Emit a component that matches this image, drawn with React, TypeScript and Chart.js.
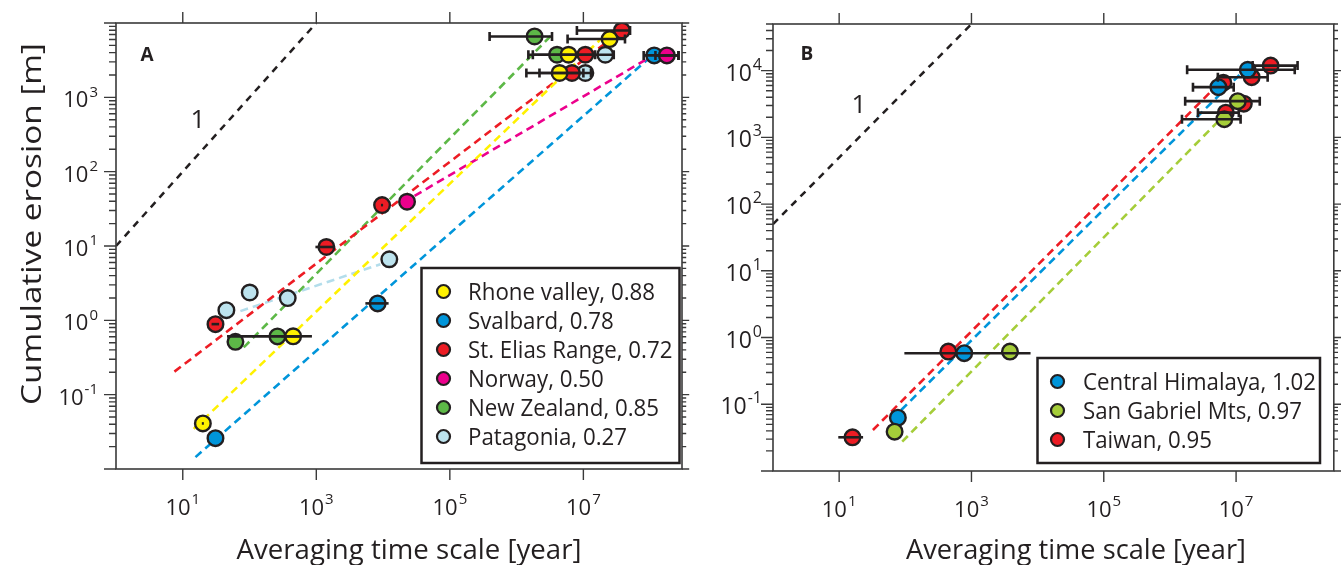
import React, { useEffect, useRef } from "react";
import { Chart, registerables } from "chart.js";
Chart.register(...registerables);

const INK = "#231F20";
const FONT = "'Open Sans', 'Noto Sans', sans-serif";

// ---------- Tick labels (powers of ten) ----------
const xTickExps = [1, 3, 5, 7];
const yTickExpsA = [-1, 0, 1, 2, 3];
const yTickExpsB = [-1, 0, 1, 2, 3, 4];

// ---------- Panel A ----------
const rhoneX = [20, 450, 4.4e6, 6.0e6, 2.47e7];
const rhoneY = [0.041, 0.61, 2126, 3742, 6080];
const rhoneLo = [19.3, 300, 1.4e6, 1.75e6, 5.8e6];
const rhoneHi = [20.7, 860, 1.3e7, 2.85e7, 4.2e7];
const rhoneFitX = [14.6, 1.79e7];
const rhoneFitY = [0.0347, 5960];

const svalbardX = [30.9, 8300, 1.15e8];
const svalbardY = [0.026, 1.69, 3664];
const svalbardLo = [null, 5430, 8.0e7];
const svalbardHi = [null, 12100, 2.66e8];
const svalbardFitX = [15.5, 1.02e8];
const svalbardFitY = [0.01445, 3515];

const eliasX = [30.9, 1416, 9660, 6.75e6, 1.07e7, 3.78e7];
const eliasY = [0.889, 9.7, 35.5, 2126, 3742, 7930];
const eliasLo = [27, 970, 9300, 2.2e6, null, 8.0e6];
const eliasHi = [35, 1820, 10000, 1.0e7, null, 5.0e7];
const eliasFitX = [7.5, 3.0e7];
const eliasFitY = [0.204, 6730];

const norwayX = [22860, 1.78e8];
const norwayY = [39.4, 3664];
const norwayLo = [null, 1.2e8];
const norwayHi = [null, 2.66e8];
const norwayFitX = [20140, 1.02e8];
const norwayFitY = [38.5, 3515];

const zealandX = [61.5, 262, 4.03e6, 1.86e6];
const zealandY = [0.514, 0.608, 3742, 6590];
const zealandLo = [null, 46, 1.5e6, 3.94e5];
const zealandHi = [null, 578, 1.5e7, 3.39e6];
const zealandFitX = [81.8, 3.39e6];
const zealandFitY = [0.432, 6950];

const patagoniaX = [45, 100.7, 373, 12400, 1.07e7, 2.13e7];
const patagoniaY = [1.37, 2.37, 1.99, 6.63, 2126, 3742];
const patagoniaFitX = [73, 9120];
const patagoniaFitY = [1.33, 5.68];

const oneToOneAX = [1, 1000];
const oneToOneAY = [10, 10000];

// ---------- Panel B ----------
const himalayaX = [77.2, 777, 5.4e6, 1.5e7];
const himalayaY = [0.063, 0.583, 5655, 10300];
const himalayaLo = [null, 96.8, 2.23e6, 1.82e6];
const himalayaHi = [null, 7820, 9.2e6, 7.7e7];
const himalayaFitX = [86.7, 1.14e7];
const himalayaFitY = [0.0822, 8710];

const gabrielX = [68.9, 3820, 1.06e7, 6.64e6];
const gabrielY = [0.0389, 0.616, 3487, 1873];
const gabrielLo = [null, null, 1.7e6, 1.52e6];
const gabrielHi = [null, null, 2.28e7, 1.17e7];
const gabrielFitX = [89.8, 9.2e6];
const gabrielFitY = [0.0275, 2985];

const taiwanX = [15.9, 447, 6.42e6, 1.72e7, 3.33e7, 1.31e7, 7.0e6];
const taiwanY = [0.032, 0.616, 6610, 7980, 11900, 3200, 2345];
const taiwanLo = [9.7, null, null, 5.3e6, 1.78e7, null, 2.65e6];
const taiwanHi = [23, null, null, 3.0e7, 8.5e7, null, 1.1e7];
const taiwanFitX = [32.4, 6.3e6];
const taiwanFitY = [0.0412, 7330];

const oneToOneBX = [1, 1000];
const oneToOneBY = [50, 50000];

type Series = {
  label: string;
  color: string;
  lineColor?: string;
  x: number[];
  y: number[];
  lo?: (number | null)[];
  hi?: (number | null)[];
  fitX: number[];
  fitY: number[];
  order: number;
};

const seriesA: Series[] = [
  { label: "Rhone valley, 0.88", color: "#FFF100", x: rhoneX, y: rhoneY, lo: rhoneLo, hi: rhoneHi, fitX: rhoneFitX, fitY: rhoneFitY, order: 1 },
  { label: "Svalbard, 0.78", color: "#0095DA", x: svalbardX, y: svalbardY, lo: svalbardLo, hi: svalbardHi, fitX: svalbardFitX, fitY: svalbardFitY, order: 3 },
  { label: "St. Elias Range, 0.72", color: "#ED1C24", x: eliasX, y: eliasY, lo: eliasLo, hi: eliasHi, fitX: eliasFitX, fitY: eliasFitY, order: 4 },
  { label: "Norway, 0.50", color: "#EC008C", x: norwayX, y: norwayY, lo: norwayLo, hi: norwayHi, fitX: norwayFitX, fitY: norwayFitY, order: 2 },
  { label: "New Zealand, 0.85", color: "#5DB847", x: zealandX, y: zealandY, lo: zealandLo, hi: zealandHi, fitX: zealandFitX, fitY: zealandFitY, order: 5 },
  { label: "Patagonia, 0.27", color: "#BDE3EE", lineColor: "#B3DDEB", x: patagoniaX, y: patagoniaY, fitX: patagoniaFitX, fitY: patagoniaFitY, order: 6 },
];

const seriesB: Series[] = [
  { label: "Central Himalaya, 1.02", color: "#0095DA", x: himalayaX, y: himalayaY, lo: himalayaLo, hi: himalayaHi, fitX: himalayaFitX, fitY: himalayaFitY, order: 2 },
  { label: "San Gabriel Mts, 0.97", color: "#A5CD39", x: gabrielX, y: gabrielY, lo: gabrielLo, hi: gabrielHi, fitX: gabrielFitX, fitY: gabrielFitY, order: 1 },
  { label: "Taiwan, 0.95", color: "#ED1C24", x: taiwanX, y: taiwanY, lo: taiwanLo, hi: taiwanHi, fitX: taiwanFitX, fitY: taiwanFitY, order: 3 },
];

type PanelCfg = {
  series: Series[];
  oneX: number[];
  oneY: number[];
  yMin: number;
  yMax: number;
  xMin: number;
  xMax: number;
  yTickExps: number[];
  padding: { left: number; right: number; top: number; bottom: number };
  letter: string;
  letterPos: [number, number];
  onePos: [number, number];
  yLabelGap: number;
  yLabelSize: [number, number];
  yTitle?: { text: string; x: number; y: number; w: number };
  xTitle: { text: string; x: number; y: number; w: number };
  legend: { x: number; y: number; w: number; h: number; markerX: number; textX: number; rowY0: number; rowStep: number; refW: number };
};

function fitText(ctx: CanvasRenderingContext2D, text: string, x: number, y: number, font: string, sx: number, align: CanvasTextAlign) {
  ctx.save();
  ctx.font = font;
  ctx.textAlign = align;
  ctx.textBaseline = "alphabetic";
  ctx.translate(x, y);
  ctx.scale(sx, 1);
  ctx.fillText(text, 0, 0);
  ctx.restore();
}

function drawPow(ctx: CanvasRenderingContext2D, exp: number, x: number, baseY: number, align: "right" | "center", size: [number, number]) {
  const baseFont = `${size[0]}px ${FONT}`;
  const expFont = `${size[1]}px ${FONT}`;
  ctx.font = baseFont;
  const bw = ctx.measureText("10").width;
  ctx.font = expFont;
  const es = String(exp);
  const ew = ctx.measureText(es).width;
  const total = bw + 1 + ew;
  const sx = align === "right" ? x - total : x - total / 2;
  ctx.fillStyle = INK;
  ctx.textAlign = "left";
  ctx.textBaseline = "alphabetic";
  ctx.font = baseFont;
  ctx.fillText("10", sx, baseY);
  ctx.font = expFont;
  ctx.fillText(es, sx + bw + 1, baseY - size[0] * 0.48);
}

function makeDecor(cfg: PanelCfg) {
  return {
    id: "decor",
    afterDatasetsDraw(chart: any) {
      const ctx: CanvasRenderingContext2D = chart.ctx;
      const xs = chart.scales.x;
      const ys = chart.scales.y;
      ctx.save();
      ctx.strokeStyle = INK;
      ctx.lineWidth = 2.6;
      ctx.lineCap = "butt";
      for (const s of cfg.series) {
        if (!s.lo || !s.hi) continue;
        s.x.forEach((_, i) => {
          const lo = s.lo![i];
          const hi = s.hi![i];
          if (lo == null || hi == null) return;
          const x1 = xs.getPixelForValue(lo);
          const x2 = xs.getPixelForValue(hi);
          const py = ys.getPixelForValue(s.y[i]);
          ctx.beginPath();
          ctx.moveTo(x1, py);
          ctx.lineTo(x2, py);
          if (s.y[i] > 100) {
            ctx.moveTo(x1, py - 4.5);
            ctx.lineTo(x1, py + 4.5);
            ctx.moveTo(x2, py - 4.5);
            ctx.lineTo(x2, py + 4.5);
          }
          ctx.stroke();
        });
      }
      ctx.restore();
    },
    afterDraw(chart: any) {
      const ctx: CanvasRenderingContext2D = chart.ctx;
      const a = chart.chartArea;
      const xs = chart.scales.x;
      const ys = chart.scales.y;
      ctx.save();
      // frame
      ctx.strokeStyle = "#3A3A3A";
      ctx.lineWidth = 1.6;
      ctx.strokeRect(a.left, a.top, a.right - a.left, a.bottom - a.top);
      // x ticks
      ctx.beginPath();
      for (const e of xTickExps) {
        const px = xs.getPixelForValue(Math.pow(10, e));
        ctx.moveTo(px, a.bottom);
        ctx.lineTo(px, a.bottom + 11);
        ctx.moveTo(px, a.top);
        ctx.lineTo(px, a.top - 11);
      }
      // y ticks (major + minor)
      const d0 = Math.floor(Math.log10(cfg.yMin));
      const d1 = Math.ceil(Math.log10(cfg.yMax));
      for (let d = d0; d <= d1; d++) {
        for (let m = 1; m <= 9; m++) {
          const v = m * Math.pow(10, d);
          if (v < cfg.yMin * 0.999 || v > cfg.yMax * 1.001) continue;
          const py = ys.getPixelForValue(v);
          const len = m === 1 ? 12 : 7;
          ctx.moveTo(a.left - len, py);
          ctx.lineTo(a.left, py);
          ctx.moveTo(a.right, py);
          ctx.lineTo(a.right + len * 0.6, py);
        }
      }
      ctx.lineWidth = 1.4;
      ctx.stroke();
      // tick labels
      for (const e of xTickExps) {
        const px = xs.getPixelForValue(Math.pow(10, e));
        drawPow(ctx, e, px, a.bottom + 46, "center", [22, 15]);
      }
      for (const e of cfg.yTickExps) {
        const py = ys.getPixelForValue(Math.pow(10, e));
        drawPow(ctx, e, a.left - cfg.yLabelGap, py + 10, "right", cfg.yLabelSize);
      }
      ctx.fillStyle = INK;
      // axis titles
      const tf = `27px ${FONT}`;
      ctx.font = tf;
      const xw = ctx.measureText(cfg.xTitle.text).width;
      fitText(ctx, cfg.xTitle.text, cfg.xTitle.x, cfg.xTitle.y, tf, cfg.xTitle.w / xw, "center");
      if (cfg.yTitle) {
        const yf = `28px ${FONT}`;
        ctx.font = yf;
        const yw = ctx.measureText(cfg.yTitle.text).width;
        ctx.save();
        ctx.translate(cfg.yTitle.x, cfg.yTitle.y);
        ctx.rotate(-Math.PI / 2);
        fitText(ctx, cfg.yTitle.text, 0, 0, yf, cfg.yTitle.w / yw, "center");
        ctx.restore();
      }
      // panel letter
      ctx.font = `bold 19px ${FONT}`;
      ctx.textAlign = "center";
      ctx.textBaseline = "middle";
      ctx.fillText(cfg.letter, cfg.letterPos[0], cfg.letterPos[1]);
      // slope label
      ctx.font = `26px ${FONT}`;
      ctx.textBaseline = "alphabetic";
      ctx.fillText("1", cfg.onePos[0], cfg.onePos[1]);
      // legend
      const L = cfg.legend;
      ctx.fillStyle = "#FFFFFF";
      ctx.fillRect(L.x, L.y, L.w, L.h);
      ctx.strokeStyle = INK;
      ctx.lineWidth = 2.5;
      ctx.strokeRect(L.x, L.y, L.w, L.h);
      const lf = `23px ${FONT}`;
      ctx.font = lf;
      const lsx = L.refW / ctx.measureText(cfg.series[0].label).width;
      cfg.series.forEach((s, i) => {
        const cy = L.rowY0 + i * L.rowStep;
        ctx.beginPath();
        ctx.arc(L.markerX, cy, 6.5, 0, Math.PI * 2);
        ctx.fillStyle = s.color;
        ctx.fill();
        ctx.lineWidth = 2.2;
        ctx.strokeStyle = INK;
        ctx.stroke();
        ctx.fillStyle = INK;
        fitText(ctx, s.label, L.textX, cy + 8, lf, lsx, "left");
      });
      ctx.restore();
    },
  };
}

function buildDatasets(cfg: PanelCfg) {
  const ds: any[] = [];
  ds.push({
    data: cfg.oneX.map((v, i) => ({ x: v, y: cfg.oneY[i] })),
    showLine: true,
    borderColor: INK,
    borderWidth: 2.5,
    borderDash: [7, 6],
    pointRadius: 0,
    order: 200,
  });
  cfg.series.forEach((s) => {
    ds.push({
      data: s.fitX.map((v, i) => ({ x: v, y: s.fitY[i] })),
      showLine: true,
      borderColor: s.lineColor || s.color,
      borderWidth: 2.6,
      borderDash: [8, 5],
      pointRadius: 0,
      order: 100 + s.order,
    });
  });
  cfg.series.forEach((s) => {
    ds.push({
      label: s.label,
      data: s.x.map((v, i) => ({ x: v, y: s.y[i] })),
      showLine: false,
      pointRadius: 7.8,
      pointBorderWidth: 2.4,
      pointBackgroundColor: s.color,
      pointBorderColor: INK,
      order: s.order,
    });
  });
  return ds;
}

function Panel({ cfg, left, width }: { cfg: PanelCfg; left: number; width: number }) {
  const ref = useRef<HTMLCanvasElement>(null);
  useEffect(() => {
    if (!ref.current) return;
    const chart = new Chart(ref.current, {
      type: "scatter",
      data: { datasets: buildDatasets(cfg) },
      options: {
        responsive: false,
        animation: false,
        devicePixelRatio: 1,
        events: [],
        layout: { padding: cfg.padding },
        plugins: { legend: { display: false }, tooltip: { enabled: false } },
        scales: {
          x: { type: "logarithmic", min: cfg.xMin, max: cfg.xMax, display: false },
          y: { type: "logarithmic", min: cfg.yMin, max: cfg.yMax, display: false },
        },
      },
      plugins: [makeDecor(cfg)],
    });
    return () => chart.destroy();
  }, []);
  return (
    <canvas
      ref={ref}
      width={width}
      height={565}
      style={{ position: "absolute", left, top: 0, width, height: 565 }}
    />
  );
}

const cfgA: PanelCfg = {
  series: seriesA,
  oneX: oneToOneAX,
  oneY: oneToOneAY,
  xMin: 1,
  xMax: 3e8,
  yMin: 0.01,
  yMax: 1e4,
  yTickExps: yTickExpsA,
  padding: { left: 116, right: 18, top: 23, bottom: 96 },
  letter: "A",
  letterPos: [147, 56],
  onePos: [198, 128],
  yLabelGap: 18,
  yLabelSize: [22, 15],
  yTitle: { text: "Cumulative erosion [m]", x: 41, y: 224, w: 362 },
  xTitle: { text: "Averaging time scale [year]", x: 409, y: 559, w: 345 },
  legend: { x: 421.5, y: 268, w: 258, h: 195, markerX: 443.5, textX: 468, rowY0: 291.5, rowStep: 29, refW: 187 },
};

const cfgB: PanelCfg = {
  series: seriesB,
  oneX: oneToOneBX,
  oneY: oneToOneBY,
  xMin: 1,
  xMax: 3e8,
  yMin: 0.01,
  yMax: 5e4,
  yTickExps: yTickExpsB,
  padding: { left: 101, right: 7, top: 24, bottom: 94 },
  letter: "B",
  letterPos: [135, 55],
  onePos: [187, 113],
  yLabelGap: 11,
  yLabelSize: [23, 16],
  xTitle: { text: "Averaging time scale [year]", x: 404, y: 559, w: 340 },
  legend: { x: 365.5, y: 358, w: 282.5, h: 105, markerX: 385.5, textX: 411, rowY0: 381.5, rowStep: 29, refW: 233 },
};

export default function App() {
  return (
    <div style={{ position: "fixed", left: 0, top: 0, width: 1344, height: 565, background: "#fff", overflow: "hidden" }}>
      <Panel cfg={cfgA} left={0} width={700} />
      <Panel cfg={cfgB} left={672} width={672} />
    </div>
  );
}
